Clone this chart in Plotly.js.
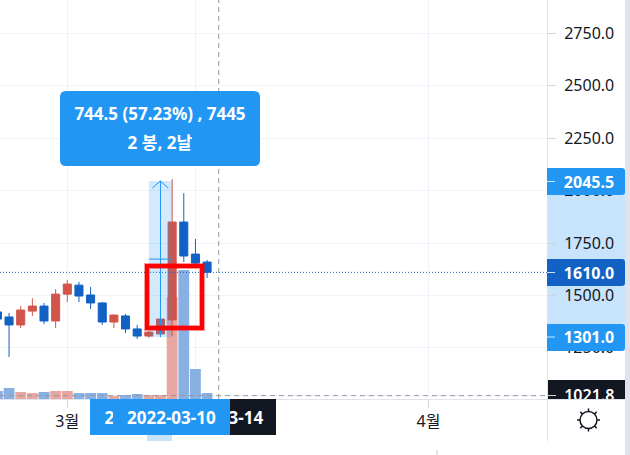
<!DOCTYPE html>
<html>
<head>
<meta charset="utf-8">
<script src="https://cdn.plot.ly/plotly-3.0.1.min.js"></script>
<style>html,body{margin:0;padding:0;background:#fff;overflow:hidden}</style>
</head>
<body>
<div id="chart" style="width:630px;height:455px"></div>
<script>
const dates = ['2022-02-23','2022-02-24','2022-02-25','2022-02-26','2022-02-27','2022-02-28','2022-03-01','2022-03-02','2022-03-03','2022-03-04','2022-03-05','2022-03-06','2022-03-07','2022-03-08','2022-03-09','2022-03-10','2022-03-11','2022-03-12','2022-03-13'];
const openValues  = [1421,1397,1359,1425,1449,1378,1506,1549,1502,1464,1373,1402,1340,1306,1316,1383,1850,1697,1659];
const highValues  = [1435,1416,1449,1487,1464,1530,1573,1564,1540,1468,1411,1411,1359,1330,1387,2055,1988,1769,1669];
const lowValues   = [1373,1206,1344,1402,1363,1344,1468,1468,1435,1359,1344,1320,1292,1297,1301,1306,1659,1645,1583];
const closeValues = [1387,1359,1430,1449,1378,1506,1554,1497,1464,1373,1406,1340,1306,1325,1387,1850,1688,1654,1610];
const volumes     = [24,33,21,18,21,24,24,18,18,18,9,12,15,12,12,306,387,90,18];
const priceTicks  = [2750,2500,2250,2000,1750,1500,1250];
const priceTickText = ['2750.0','2500.0','2250.0','2000.0','1750.0','1500.0','1250.0'];
const crossPrice = 1021.8, crossDate = '2022-03-14', lastPrice = 1610;
const measureFrom = 1301, measureTo = 2045.5, measureMid = 1673.25;
const measureStart = '2022-03-08', measureEnd = '2022-03-10', measureCentre = '2022-03-09';
const timeTicks = ['2022-03-01','2022-03-12','2022-04-01'];
const timeTickText = ['3월','','4월'];
const tooltipLines = ['744.5 (57.23%) , 7445','2 봉, 2날'];

const RED='#d1554a', BLUE='#1261c4', ACCENT='#2196f3', INK='#131722', LINE='#e0e3eb';
const FONT='"Noto Sans","Noto Sans CJK KR",sans-serif';
const PW=547, PH=399;
const X=p=>p/PW, Y=p=>1-p/PH;
const paperRect=(x0,y0,x1,y1,fill,layer)=>({type:'rect',xref:'paper',yref:'paper',x0:X(x0),x1:X(x1),y0:Y(y0),y1:Y(y1),fillcolor:fill,line:{width:0},layer:layer||'above'});
const paperLine=(x0,y0,x1,y1,color,width,dash)=>({type:'line',xref:'paper',yref:'paper',x0:X(x0),x1:X(x1),y0:Y(y0),y1:Y(y1),line:{color:color,width:width||1,dash:dash||'solid'},layer:'above'});
const rounded=(x0,y0,x1,y1,r,fill,leftR)=>{
  const l=leftR?r:0;
  const P=(x,y)=>X(x)+','+Y(y);
  return {type:'path',xref:'paper',yref:'paper',layer:'above',fillcolor:fill,line:{width:0},
    path:'M'+P(x0+l,y0)+' L'+P(x1-r,y0)+' Q'+P(x1,y0)+' '+P(x1,y0+r)+' L'+P(x1,y1-r)+' Q'+P(x1,y1)+' '+P(x1-r,y1)+' L'+P(x0+l,y1)+' Q'+P(x0,y1)+' '+P(x0,y1-l)+' L'+P(x0,y0+l)+' Q'+P(x0,y0)+' '+P(x0+l,y0)+' Z'};
};

const volColors = dates.map((d,i)=>closeValues[i]>openValues[i]?'#e8a6a1':'#89b0e3');
const traces=[
 {type:'bar',x:dates,y:volumes,xaxis:'x',yaxis:'y',marker:{color:volColors,line:{width:0}},hoverinfo:'skip',showlegend:false},
 {type:'candlestick',x:dates,open:openValues,high:highValues,low:lowValues,close:closeValues,xaxis:'x',yaxis:'y2',
  whiskerwidth:0,hoverinfo:'skip',showlegend:false,
  increasing:{line:{color:RED,width:1},fillcolor:RED},
  decreasing:{line:{color:BLUE,width:1},fillcolor:BLUE}}
];

const shapes=[
 paperRect(547,181,625,337,'#c8e4fc','below'),
 paperRect(547,380,625,400,INK,'below'),
 // measure tool
 {type:'rect',xref:'x',yref:'y2',x0:measureStart,x1:measureEnd,y0:measureFrom,y1:measureTo,fillcolor:'rgba(33,150,243,0.2)',line:{width:0},layer:'above'},
 {type:'line',xref:'x',yref:'y2',x0:measureCentre,x1:measureCentre,y0:measureFrom,y1:measureTo,line:{color:ACCENT,width:1},layer:'above'},
 {type:'line',xref:'x',yref:'y2',x0:measureStart,x1:measureEnd,y0:measureMid,y1:measureMid,line:{color:ACCENT,width:1},layer:'above'},
 paperLine(160.3,181,152.3,188,ACCENT,1),
 paperLine(160.3,181,168.3,188,ACCENT,1),
 // last price
 {type:'line',xref:'paper',yref:'y2',x0:0,x1:1,y0:lastPrice,y1:lastPrice,line:{color:BLUE,width:1,dash:'1px,2px'},layer:'above'},
 // crosshair
 {type:'line',xref:'x',yref:'paper',x0:crossDate,x1:crossDate,y0:0,y1:1,line:{color:'#9598a1',width:1,dash:'5px,4px'},layer:'above'},
 {type:'line',xref:'paper',yref:'y2',x0:0,x1:1,y0:crossPrice,y1:crossPrice,line:{color:'#9598a1',width:1,dash:'5px,4px'},layer:'above'},
 // red highlight box
 {type:'rect',xref:'paper',yref:'paper',x0:X(147),x1:X(202),y0:Y(266),y1:Y(328),fillcolor:'rgba(0,0,0,0)',line:{color:'rgba(255,0,0,0.4)',width:6},layer:'above'},
 {type:'rect',xref:'paper',yref:'paper',x0:X(147),x1:X(202),y0:Y(266),y1:Y(328),fillcolor:'rgba(0,0,0,0)',line:{color:'#ff0000',width:4},layer:'above'},
 // tooltip
 rounded(60,91,260,166,6,ACCENT,true),
 // price tags
 rounded(547,168,625,195,3,ACCENT,false),
 rounded(547,259,625,286,3,BLUE,false),
 rounded(547,324,625,351,3,ACCENT,false),
 paperLine(547,181.5,555,181.5,'rgba(255,255,255,0.8)',1),
 paperLine(547,272.5,555,272.5,'rgba(255,255,255,0.8)',1),
 paperLine(547,337,555,337,'rgba(255,255,255,0.8)',1),
 // cover below the price pane, pane borders
 paperRect(547,400,625,455,'#ffffff'),
 paperLine(0,399.5,625,399.5,LINE,1),
 paperLine(547.5,399,547.5,441,LINE,1),
 paperRect(625,0,630,455,LINE),
 paperRect(147,435,172,441,'#c8e4fc'),
 paperRect(436,450,438,455,LINE)
];
// settings gear
const gx=588.5, gy=420, gr=8.5;
shapes.push({type:'circle',xref:'paper',yref:'paper',x0:X(gx-gr),x1:X(gx+gr),y0:Y(gy-gr),y1:Y(gy+gr),fillcolor:'rgba(0,0,0,0)',line:{color:INK,width:1.5},layer:'above'});
[[0,-1],[0,1],[1,0],[-1,0],[.707,.707],[-.707,.707],[.707,-.707],[-.707,-.707]].forEach(d=>{
  shapes.push(paperLine(gx+d[0]*gr,gy+d[1]*gr,gx+d[0]*(gr+3),gy+d[1]*(gr+3),INK,1.5));
});

const tagFont={family:FONT,size:16,color:'#ffffff',weight:700};
const bigFont={family:FONT,size:17,color:'#ffffff',weight:700};
const tag=(px,py,text,w,h,bg,font)=>({xref:'paper',yref:'paper',x:X(px),y:Y(py),xanchor:'center',yanchor:'middle',text:text,showarrow:false,font:font||tagFont,
  width:w,height:h,bgcolor:bg||'rgba(0,0,0,0)',borderpad:0,borderwidth:0});
const annotations=[
 tag(160,113,tooltipLines[0],190,24,null,bigFont),
 tag(160,142,tooltipLines[1],190,24,null,bigFont),
 tag(588.5,181.5,'2045.5',70,22),
 tag(588.5,272.5,'1610.0',70,22),
 tag(588.5,337,'1301.0',70,22),
 tag(219,417,'2022-03-14',114,36,INK,bigFont),
 tag(149,417,'2022-03-08',118,36,ACCENT,bigFont),
 tag(171.5,417,'2022-03-10',117,36,ACCENT,bigFont)
];

const layout={
 width:630,height:455,margin:{l:0,r:83,t:0,b:56,pad:0},
 paper_bgcolor:'#ffffff',plot_bgcolor:'#ffffff',showlegend:false,bargap:0.07,boxgap:0.31,boxgroupgap:0,
 font:{family:FONT,size:16,color:INK},
 xaxis:{type:'date',range:['2022-02-23 05:21','2022-04-11 04:19'],rangeslider:{visible:false},
   tickmode:'array',tickvals:timeTicks,ticktext:timeTickText,ticks:'outside',ticklen:8,tickwidth:1,tickcolor:'#d1d4dc',
   tickfont:{family:FONT,size:16,color:INK},showgrid:true,gridcolor:'#f0f3fa',gridwidth:1,showline:false,zeroline:false,fixedrange:true,tickangle:0},
 yaxis:{range:[0,1197],visible:false,fixedrange:true,showgrid:false,zeroline:false},
 yaxis2:{overlaying:'y',side:'right',range:[1005.7,2909.4],tickmode:'array',
   tickvals:priceTicks.concat([crossPrice]),
   ticktext:priceTickText.concat(['<span style="color:#ffffff;font-weight:600">'+crossPrice.toFixed(1)+'</span>']),
   ticks:'outside',ticklen:8,tickwidth:1,tickcolor:'#d1d4dc',ticklabelstandoff:5,
   tickfont:{family:FONT,size:16,color:INK},showgrid:true,gridcolor:'#f0f3fa',gridwidth:1,showline:true,linecolor:LINE,linewidth:1,zeroline:false,fixedrange:true},
 shapes:shapes,annotations:annotations
};
Plotly.newPlot('chart',traces,layout,{displayModeBar:false,staticPlot:true});
</script>
</body>
</html>
